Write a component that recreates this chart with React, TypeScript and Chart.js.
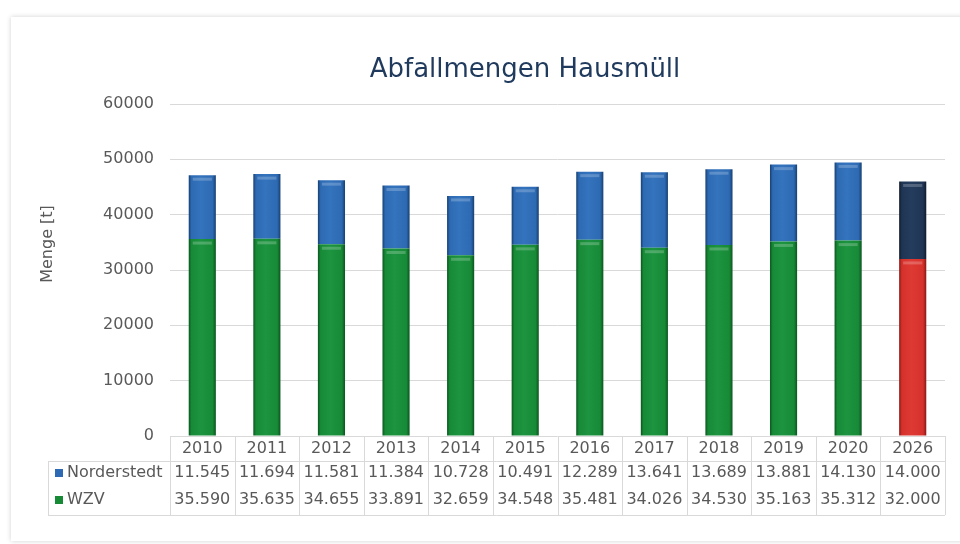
import React, { useEffect, useRef } from "react";
import { Chart, registerables } from "chart.js";

Chart.register(...registerables);

const TITLE = "Abfallmengen Hausmüll";
const Y_TITLE = "Menge [t]";
const YEARS = ["2010", "2011", "2012", "2013", "2014", "2015", "2016", "2017", "2018", "2019", "2020", "2026"];
const NORDERSTEDT = [11545, 11694, 11581, 11384, 10728, 10491, 12289, 13641, 13689, 13881, 14130, 14000];
const WZV = [35590, 35635, 34655, 33891, 32659, 34548, 35481, 34026, 34530, 35163, 35312, 32000];
const SERIES_NAMES = ["Norderstedt", "WZV"];

const FONT = "'DejaVu Sans', Verdana, sans-serif";
const TEXT = "#595959";
const GRID = "#d9d9d9";

type Pal = { base: string; light: string; dark: string };
const BLUE: Pal = { base: "#2d6ab3", light: "#3473bd", dark: "#173f70" };
const GREEN: Pal = { base: "#178a36", light: "#1d9440", dark: "#0b5520" };
const NAVY: Pal = { base: "#1f3554", light: "#243c5e", dark: "#101a2c" };
const RED: Pal = { base: "#d6302b", light: "#de3a34", dark: "#871815" };

const fmt = (v: number) => {
  const th = Math.floor(v / 1000);
  const rest = String(v % 1000).padStart(3, "0");
  return `${th}.${rest}`;
};

const BAR_PCT = 0.42;

function gradientFor(ctx: any, pal: Pal) {
  const chart = ctx.chart;
  const xs = chart.scales?.x;
  if (!xs || !chart.chartArea || ctx.dataIndex === undefined) return pal.base;
  const cx = xs.getPixelForValue(ctx.dataIndex);
  const colW = (chart.chartArea.right - chart.chartArea.left) / YEARS.length;
  const w = colW * BAR_PCT;
  const g = chart.ctx.createLinearGradient(cx - w / 2, 0, cx + w / 2, 0);
  g.addColorStop(0, pal.dark);
  g.addColorStop(0.1, pal.base);
  g.addColorStop(0.45, pal.light);
  g.addColorStop(0.88, pal.base);
  g.addColorStop(1, pal.dark);
  return g;
}

const decorPlugin = {
  id: "decor",
  beforeDraw(chart: any) {
    const c = chart.ctx;
    c.save();
    c.fillStyle = "#ffffff";
    c.fillRect(0, 0, chart.width, chart.height);
    c.shadowColor = "rgba(0,0,0,0.18)";
    c.shadowBlur = 5;
    c.fillRect(11, 17, chart.width + 20, 524);
    c.restore();
  },
  afterDatasetsDraw(chart: any) {
    const c = chart.ctx;
    c.save();
    chart.data.datasets.forEach((_: any, di: number) => {
      const meta = chart.getDatasetMeta(di);
      meta.data.forEach((el: any) => {
        const { x, y, width } = el.getProps(["x", "y", "width"], true);
        c.strokeStyle = "rgba(255,255,255,0.22)";
        c.lineWidth = 3;
        c.beginPath();
        c.moveTo(x - width / 2 + 4, y + 4);
        c.lineTo(x + width / 2 - 4, y + 4);
        c.stroke();
      });
    });
    c.restore();
  },
  afterDraw(chart: any) {
    const c = chart.ctx;
    const area = chart.chartArea;
    const left = area.left;
    const right = area.right;
    const n = YEARS.length;
    const colW = (right - left) / n;
    const y0 = area.bottom;
    const y1 = y0 + 25;
    const y2 = y0 + 79;
    const tableLeft = 48;
    c.save();
    // title
    c.fillStyle = "#1f3a5c";
    c.font = `26px ${FONT}`;
    c.textAlign = "center";
    c.textBaseline = "middle";
    c.fillText(TITLE, 525, 70);
    // y title
    c.save();
    c.translate(48, 244);
    c.rotate(-Math.PI / 2);
    c.fillStyle = TEXT;
    c.font = `16px ${FONT}`;
    c.fillText(Y_TITLE, 0, 0);
    c.restore();
    // table lines
    c.strokeStyle = GRID;
    c.lineWidth = 1;
    c.beginPath();
    for (let i = 0; i <= n; i++) {
      const x = Math.round(left + i * colW) + 0.5;
      c.moveTo(x, y0);
      c.lineTo(x, y2);
    }
    c.moveTo(tableLeft + 0.5, y1);
    c.lineTo(tableLeft + 0.5, y2);
    c.moveTo(tableLeft, y1 + 0.5);
    c.lineTo(right, y1 + 0.5);
    c.moveTo(tableLeft, y2 + 0.5);
    c.lineTo(right, y2 + 0.5);
    c.stroke();
    // texts
    c.fillStyle = TEXT;
    c.font = `16px ${FONT}`;
    c.textAlign = "center";
    c.textBaseline = "middle";
    const rows = [NORDERSTEDT, WZV];
    const rowY = [y0 + 37, y0 + 64];
    YEARS.forEach((yr, i) => {
      const cx = left + (i + 0.5) * colW;
      c.fillText(yr, cx, y0 + 13);
      rows.forEach((r, ri) => c.fillText(fmt(r[i]), cx, rowY[ri]));
    });
    // legend keys
    const keyCols = [BLUE.base, GREEN.base];
    c.textAlign = "left";
    SERIES_NAMES.forEach((name, ri) => {
      c.fillStyle = keyCols[ri];
      c.fillRect(55, rowY[ri] - 4, 8, 8);
      c.fillStyle = TEXT;
      c.fillText(name, 67, rowY[ri]);
    });
    c.restore();
  },
};

export default function App() {
  const ref = useRef<HTMLCanvasElement | null>(null);
  useEffect(() => {
    if (!ref.current) return;
    Chart.defaults.font.family = FONT;
    const last = YEARS.length - 1;
    const chart = new Chart(ref.current, {
      type: "bar",
      data: {
        labels: YEARS,
        datasets: [
          {
            label: SERIES_NAMES[1],
            data: WZV,
            backgroundColor: (ctx: any) => gradientFor(ctx, ctx.dataIndex === last ? RED : GREEN),
            borderWidth: 0,
            barPercentage: BAR_PCT,
            categoryPercentage: 1,
          },
          {
            label: SERIES_NAMES[0],
            data: NORDERSTEDT,
            backgroundColor: (ctx: any) => gradientFor(ctx, ctx.dataIndex === last ? NAVY : BLUE),
            borderWidth: 0,
            barPercentage: BAR_PCT,
            categoryPercentage: 1,
          },
        ],
      },
      options: {
        animation: false,
        responsive: false,
        layout: { padding: { left: 0, right: 15, top: 104, bottom: 108 } },
        plugins: { legend: { display: false }, title: { display: false }, tooltip: { enabled: false } },
        scales: {
          x: {
            stacked: true,
            display: false,
          },
          y: {
            stacked: true,
            min: 0,
            max: 60000,
            ticks: {
              stepSize: 10000,
              color: TEXT,
              font: { size: 16, family: FONT },
              padding: 16,
              callback: (v: any) => String(v),
            },
            grid: { color: GRID, drawTicks: false },
            border: { display: false },
            afterFit: (s: any) => {
              s.width = 170;
            },
          },
        },
      },
      plugins: [decorPlugin],
    });
    return () => chart.destroy();
  }, []);
  return (
    <div style={{ position: "fixed", left: 0, top: 0, width: 960, height: 544, background: "#fff" }}>
      <canvas ref={ref} width={960} height={544} style={{ width: 960, height: 544, display: "block" }} />
    </div>
  );
}
